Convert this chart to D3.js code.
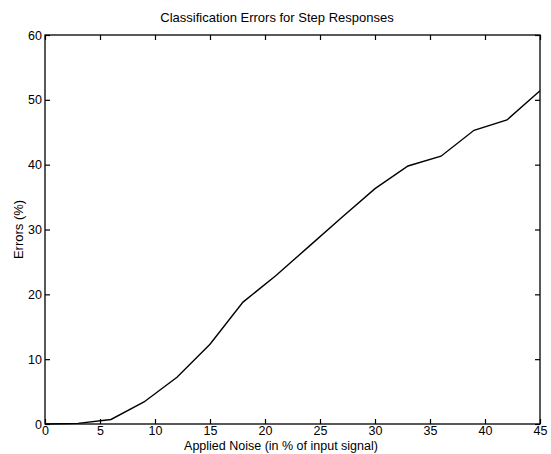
<!DOCTYPE html>
<html><head><meta charset="utf-8">
<script src="https://cdn.jsdelivr.net/npm/d3@7"></script>
<style>
body{margin:0;background:#fff}
text{font-family:"Liberation Sans",Arial,Helvetica,sans-serif;fill:#000}
</style></head>
<body><svg id="c" width="551" height="454"></svg>
<script>
const noise = [0,3,6,9,12,15,18,21,24,27,30,33,36,39,42,45];
const errors = [0,0.1,0.7,3.4,7.2,12.3,18.8,22.9,27.4,31.9,36.3,39.8,41.3,45.3,46.9,51.4];
const xTicks = [0,5,10,15,20,25,30,35,40,45];
const yTicks = [0,10,20,30,40,50,60];
const title = "Classification Errors for Step Responses";
const xLabel = "Applied Noise (in % of input signal)";
const yLabel = "Errors (%)";

const L=45,R=540,T=35,B=424;
const svg=d3.select("#c");
const x=d3.scaleLinear().domain([0,45]).range([L,R]);
const y=d3.scaleLinear().domain([0,60]).range([B,T]);
const fs=12.5;

svg.append("g").attr("transform",`translate(0,${B})`)
 .call(d3.axisBottom(x).tickValues(xTicks).tickSizeInner(-5).tickSizeOuter(0).tickPadding(2))
 .call(g=>{g.select(".domain").remove();g.selectAll("text").attr("font-size",fs).attr("font-family",null);});
svg.append("g").attr("transform",`translate(0,${T})`)
 .call(d3.axisTop(x).tickValues(xTicks).tickSizeInner(-5).tickSizeOuter(0).tickFormat(""))
 .call(g=>g.select(".domain").remove());
svg.append("g").attr("transform",`translate(${L},0)`)
 .call(d3.axisLeft(y).tickValues(yTicks).tickSizeInner(-5).tickSizeOuter(0).tickPadding(3))
 .call(g=>{g.select(".domain").remove();g.selectAll("text").attr("font-size",fs).attr("font-family",null);});
svg.append("g").attr("transform",`translate(${R},0)`)
 .call(d3.axisRight(y).tickValues(yTicks).tickSizeInner(-5).tickSizeOuter(0).tickFormat(""))
 .call(g=>g.select(".domain").remove());
svg.selectAll(".tick line").attr("stroke","#000").attr("stroke-width",1.2);

svg.append("rect").attr("x",L).attr("y",T).attr("width",R-L).attr("height",B-T)
 .attr("fill","none").attr("stroke","#000").attr("stroke-width",1.3);

svg.append("path").datum(noise.map((n,i)=>[n,errors[i]]))
 .attr("d",d3.line().x(d=>x(d[0])).y(d=>y(d[1])))
 .attr("fill","none").attr("stroke","#000").attr("stroke-width",1.4);

svg.append("text").attr("x",277).attr("y",22).attr("text-anchor","middle").attr("font-size",13).text(title);
svg.append("text").attr("x",281).attr("y",450).attr("text-anchor","middle").attr("font-size",12.5).text(xLabel);
svg.append("text").attr("transform",`translate(23,${(T+B)/2}) rotate(-90)`).attr("text-anchor","middle").attr("font-size",13).text(yLabel);
</script></body></html>
